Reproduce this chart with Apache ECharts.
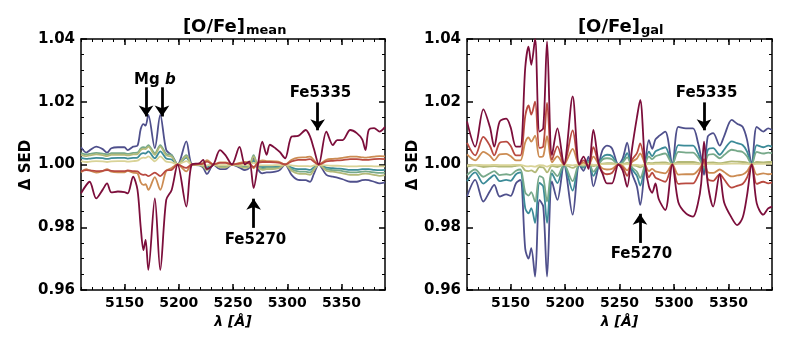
<!DOCTYPE html>
<html>
<head>
<meta charset="utf-8">
<script src="https://cdn.jsdelivr.net/npm/echarts@6/dist/echarts.min.js"></script>
<style>
  html, body { margin: 0; background: #fff; }
  #chart { width: 789px; height: 351px; }
</style>
</head>
<body>
<div id="chart"></div>
<script>
// wavelength grid (Angstrom) and ΔSED - 1 in units of 1e-3
const lamMean = [5110,5115,5118,5124,5130,5134,5138,5144,5150,5153,5158,5162,5165,5167.5,5169.5,5172,5178,5183,5188.5,5193.5,
  5199,5207,5212,5219,5222.5,5226,5232,5238,5243,5249,5256,5261,5265,5269,5273,5277,5281,5284,5289,5293,
  5298,5304,5310,5317,5321,5324.5,5329,5336,5342,5346,5351,5358,5364,5369,5372,5375,5380,5385,5390];

const meanNavy = [5.5,3.8,4.5,5.7,4.9,3.8,5.2,5.5,5.5,4.6, 5.7,6,11.3,12.9,12.4,15.8,5.2,15.8,4.6,3,
  0,7.4,0,-0.3,-1,-3,0,-1.5,-1.5,0, -1,-1.8,-1,2,-1.5,-2.8,-2.5,-2.5,-2.3,-1.8,
  0,-3.3,-4.9,-5,-5.5,-3,0,-3.3,-3.9,-4.2, -4.7,-5.5,-5.5,-5,-4.9,-5,-5.5,-6,-5.7];
const meanTeal = [2.1,1.8,1.9,2.1,2.0,1.8,2.0,2.1,2.1,1.9, 2.1,2.2,3.3,3.6,3.5,4.2,2.0,4.2,1.9,1.6,
  0,2.2,0,-0.1,-0.3,-0.9,0,-0.5,-0.5,0, -0.3,-0.5,-0.3,1.2,-0.5,-0.8,-0.8,-0.8,-0.7,-0.5,
  0,-1.0,-1.5,-1.5,-1.7,-0.9,0,-1.0,-1.2,-1.3, -1.4,-1.7,-1.7,-1.5,-1.5,-1.5,-1.7,-1.8,-1.7];
const meanGreen = [3.6,3.2,3.4,3.7,3.5,3.2,3.6,3.6,3.6,3.4, 3.7,3.8,5.1,5.5,5.4,6.2,3.6,6.2,3.4,3.0,
  0,3.0,0,-0.1,-0.5,-1.4,0,-0.7,-0.7,0, -0.5,-0.8,-0.5,3,-0.7,-1.3,-1.1,-1.1,-1.0,-0.8,
  0,-1.5,-2.2,-2.3,-2.5,-1.4,0,-1.5,-1.8,-1.9, -2.1,-2.5,-2.5,-2.3,-2.2,-2.3,-2.5,-2.7,-2.6];
const meanKhaki = [3.1,2.7,2.9,3.2,3.0,2.7,3.1,3.1,3.1,2.9, 3.2,3.3,4.6,5.0,4.9,5.7,3.1,5.7,2.9,2.5,
  0,2.6,0,-0.2,-0.6,-1.8,0,-0.9,-0.9,0, -0.6,-1.1,-0.6,2.5,-0.9,-1.7,-1.5,-1.5,-1.4,-1.1,
  0,-2.0,-2.9,-3.0,-3.3,-1.8,0,-2.0,-2.3,-2.5, -2.8,-3.3,-3.3,-3.0,-2.9,-3.0,-3.3,-3.6,-3.4];
const meanLight = [1.1,0.8,0.9,1.1,1.0,0.8,1.0,1.1,1.1,0.9, 1.1,1.2,1.9,2.2,2.1,2.6,1.0,2.6,0.9,0.7,
  0,1.1,0,0,-0.1,-0.3,0,-0.2,-0.2,0, -0.1,-0.2,-0.1,0.5,-0.2,-0.3,-0.3,-0.3,-0.2,-0.2,
  0,-0.3,-0.5,-0.5,-0.6,-0.3,0,-0.3,-0.4,-0.4, -0.5,-0.6,-0.6,-0.5,-0.5,-0.5,-0.6,-0.6,-0.6];
const meanOrange = [-2.5,-1.5,-1.9,-2.6,-2.1,-1.5,-2.3,-2.5,-2.5,-2.0, -2.6,-2.8,-5.7,-6.5,-6.3,-8.1,-4,-8.1,-2.0,-1.1,
  0,-2.2,0,0.1,0.5,1.4,0,0.7,0.7,0, 0.5,0.8,0.5,-1.2,0.7,1.3,1.1,1.1,1.0,0.8,
  0,1.5,2.2,2.3,2.5,1.4,0,1.5,1.8,1.9, 2.1,2.5,2.5,2.3,2.2,2.3,2.5,2.7,2.6];
const meanRed = [-2.1,-1.8,-1.9,-2.1,-2.0,-1.8,-2.0,-2.1,-2.1,-1.9, -2.1,-2.2,-3.0,-3.3,-3.2,-3.7,-2.6,-3.7,-1.9,-1.7,
  0,-1.1,0,0.1,0.3,0.9,0,0.5,0.5,0, 0.3,0.5,0.3,-0.8,0.5,0.8,0.8,0.8,0.7,0.5,
  0,1.0,1.5,1.5,1.7,0.9,0,1.0,1.2,1.3, 1.4,1.7,1.7,1.5,1.5,1.5,1.7,1.8,1.7];
const meanMaroon = [-9.2,-6.5,-5.5,-10.8,-8,-6,-8.9,-8.6,-8.8,-9.2, -3.9,-8,-20,-27.3,-24,-33.6,-10.8,-33.6,-11.3,-8.1,
  0,-13.4,0,0.4,1.5,-1.5,0,4.6,3,0, 5.6,0,1,-7.5,0,7.3,3.1,6.3,5.2,4,
  2,8.9,9.1,11,8.9,5,0,10.5,6.2,7.8, 7.8,11,10,8,4.6,11,11.6,10.5,12];

const lamGal = [5110,5117.5,5125,5131,5135,5140,5146,5150,5155,5159,5163.5,5166.5,5169,5172.5,5176.5,5180,5183.5,5188,5193,5199,
  5207,5213,5217,5221.5,5226,5231,5234.5,5238.5,5243,5249,5253,5257,5261.5,5266,5269,5273.5,5277,5280,5283,5286,
  5292,5298.5,5304,5311,5317.5,5322,5325,5327.6,5331,5336,5342,5346,5353,5358,5363,5367,5371.4,5376,5382,5386.5,5390];

const galNavy = [-10.2,-4.9,-11.8,-8.5,-6.5,-10.2,-9.5,-10,-6,-4.9, -27,-30,-26.7,-35.7,-11.3,-13.4,-35.7,-5.4,-11.3,0,
  -16,0,-2,2.5,-7,0,4.7,6,5.2,0, 2,7,-2.8,-7,-12.9,0,7.8,5,8,9,
  10.5,0,12,11.5,11.5,7,2,-3.3,8.9,10, 6,9,14.2,13,12,8,0,12,10.5,11.5,11];
const galTeal = [-5.3,-2.5,-6.1,-4.4,-3.4,-5.3,-4.9,-5.2,-3.1,-2.5, -14,-15.6,-13.9,-18.6,-5.9,-7,-18.6,-2.8,-5.9,0,
  -8.3,0,-1,1.3,-3.6,0,2.4,3.1,2.7,0, 1,3.6,-1.5,-3.6,-6.7,0,4.1,2.6,4.2,4.7,
  5.5,0,6.2,6,6,3.6,1,-1.7,4.6,5.2, 3.1,4.7,7.4,6.8,6.2,4.2,0,6.2,5.5,6,5.7];
const galGreen = [-3.4,-1.6,-3.9,-2.8,-2.1,-3.4,-3.1,-3.3,-2,-1.6, -8.9,-9.9,-8.8,-11.8,-3.7,-4.4,-11.8,-1.8,-3.7,0,
  -5.3,0,-0.7,0.8,-2.3,0,1.6,2,1.7,0, 0.7,2.3,-0.9,-2.3,-4.3,0,2.6,1.7,2.6,3,
  3.5,0,4,3.8,3.8,2.3,0.7,-1.1,2.9,3.3, 2,3,4.7,4.3,4,2.6,0,4,3.5,3.8,3.6];
const galKhaki = [-0.7,-0.3,-0.8,-0.6,-0.5,-0.7,-0.7,-0.7,-0.4,-0.3, -1.9,-2.1,-1.9,-2.5,-0.8,-0.9,-2.5,-0.4,-0.8,0,
  -1.1,0,-0.1,0.2,-0.5,0,0.3,0.4,0.4,0, 0.1,0.5,-0.2,-0.5,-0.9,0,0.5,0.4,0.6,0.6,
  0.7,0,0.8,0.8,0.8,0.5,0.1,-0.2,0.6,0.7, 0.4,0.6,1,0.9,0.8,0.6,0,0.8,0.7,0.8,0.8];
const galLight = [-0.2,-0.1,-0.2,-0.2,-0.1,-0.2,-0.2,-0.2,-0.1,-0.1, -0.5,-0.6,-0.5,-0.7,-0.2,-0.3,-0.7,-0.1,-0.2,0,
  -0.3,0,0,0.1,-0.1,0,0.1,0.1,0.1,0, 0,0.1,-0.1,-0.1,-0.3,0,0.2,0.1,0.2,0.2,
  0.2,0,0.2,0.2,0.2,0.1,0,-0.1,0.2,0.2, 0.1,0.2,0.3,0.3,0.2,0.2,0,0.2,0.2,0.2,0.2];
const galOrange = [3.2,1.3,4,2.8,1.3,3.2,3.4,2.7,1.3,1.3, 7.1,8.6,7.3,9.2,2.4,2.7,9,0.7,2.6,0,
  5,0,0.6,-0.3,2.5,0,-1.3,-1.6,-1.4,0, -0.5,-1.9,0.8,1.9,3.5,0,-2.1,-1.4,-2.2,-2.4,
  -2.8,0,-3.2,-3.1,-3.1,-1.9,-0.5,0.9,-2.4,-2.7, -1.6,-2.4,-3.8,-3.5,-3.2,-2.2,0,-3.2,-2.8,-3.1,-3];
const galRed = [6.9,2.9,8.8,6,2.9,6.9,7.3,6,2.9,2.9, 15.5,18.8,15.9,20,5.3,5.8,19.6,1.5,5.8,0,
  10.9,0,1.3,-0.6,5.5,0,-2.4,-3.1,-2.7,0, -1,-3.6,1.5,3.6,6.7,0,-4.1,-2.6,-4.2,-4.7,
  -5.5,0,-6.2,-6,-6,-3.6,-1,1.7,-4.6,-5.2, -3.1,-4.7,-7.4,-6.8,-6.2,-4.2,0,-6.2,-5.5,-6,-5.7];
const galMaroon = [13.7,5.7,17.6,12,5.7,13.7,14.6,11.9,5.7,5.7, 31,37.6,31.8,40,10.5,11.6,39.2,3,11.5,0,
  21.7,0,2.5,-1.4,11,0,-3,-6,-6,0, -2,-7.1,5,15,20.6,0,-7,-9,-6,-11,
  -14.5,0,-12,-15.6,-16.6,-12.4,-6,7.3,-6,-13.4, -3,-12,-17,-19.3,-17,-10,0,-12.4,-16,-14,-13.4];

const majorTicks = [5150, 5200, 5250, 5300, 5350];

const FONT = 'DejaVu Sans';
const lineColors = ['#4f508c', '#3c8b98', '#77a98a', '#b3b978', '#d9d397', '#cc8c53', '#b94a40', '#7c0e3b'];

const chart = echarts.init(document.getElementById('chart'));

function toPoints(lam, d) {
  return lam.map((x, i) => [x, 1 + d[i] / 1000]);
}

function xAxes(gi) {
  const base = {
    gridIndex: gi, type: 'value', min: 5110, max: 5390,
    splitLine: { show: false },
    axisLine: { show: false },
    axisLabel: { show: false }
  };
  const minor = {
    ...base, interval: 10,
    axisLine: { show: true, onZero: false, lineStyle: { color: '#000', width: 1.5 } },
    axisTick: { inside: true, length: 3, lineStyle: { color: '#000', width: 1 } }
  };
  const major = {
    ...base,
    axisTick: { inside: true, length: 6, customValues: majorTicks, lineStyle: { color: '#000', width: 1.5 } }
  };
  return [
    { ...minor, position: 'bottom' },
    {
      ...major, position: 'bottom',
      axisLabel: {
        customValues: majorTicks, color: '#000', fontFamily: FONT,
        fontWeight: 'bold', fontSize: 14, margin: 6,
        formatter: v => String(v)
      },
      name: 'λ [Å]', nameLocation: 'middle', nameGap: 23,
      nameTextStyle: { color: '#000', fontFamily: FONT, fontWeight: 'bold', fontStyle: 'italic', fontSize: 14 }
    },
    { ...minor, position: 'top' },
    { ...major, position: 'top' }
  ];
}

function yAxes(gi) {
  const base = {
    gridIndex: gi, type: 'value', min: 0.96, max: 1.04, interval: 0.02,
    splitLine: { show: false },
    axisLine: { show: true, onZero: false, lineStyle: { color: '#000', width: 1.5 } },
    axisTick: { inside: true, length: 6, lineStyle: { color: '#000', width: 1.5 } },
    minorTick: { show: true, splitNumber: 4, length: 3, lineStyle: { color: '#000', width: 1 } }
  };
  return [
    {
      ...base, position: 'left',
      axisLabel: {
        color: '#000', fontFamily: FONT, fontWeight: 'bold', fontSize: 15, margin: 6,
        formatter: v => v.toFixed(2)
      }
    },
    { ...base, position: 'right', axisLabel: { show: false } }
  ];
}

function panelSeries(gi, lam, lines, notes) {
  const xi = gi * 4, yi = gi * 2;
  const out = lines.map((d, k) => ({
    type: 'line', xAxisIndex: xi, yAxisIndex: yi,
    data: toPoints(lam, d),
    showSymbol: false, smooth: 0.3, silent: true,
    lineStyle: { color: lineColors[k], width: 1.8 },
    z: 2 + k
  }));
  // annotation arrows and labels, placed in data coordinates
  out.push({
    type: 'line', xAxisIndex: xi, yAxisIndex: yi, data: [], silent: true, z: 20,
    itemStyle: { color: '#000' },
    markLine: {
      silent: true, symbol: ['none', 'arrow'], symbolSize: 11,
      label: { show: false },
      itemStyle: { color: '#000' },
      lineStyle: { color: '#000', width: 2.8, type: 'solid' },
      emphasis: { disabled: true },
      data: notes.arrows.map(a => [{ coord: [a[0], a[1]] }, { coord: [a[0], a[2]] }])
    },
    markPoint: {
      silent: true, symbol: 'rect', symbolSize: 0,
      label: {
        show: true, position: 'inside', color: '#000', fontFamily: FONT,
        fontWeight: 'bold', fontSize: 15,
        formatter: p => p.name === 'Mg b' ? 'Mg {i|b}' : p.name,
        rich: { i: { fontFamily: FONT, fontWeight: 'bold', fontStyle: 'italic', fontSize: 15, color: '#000' } }
      },
      data: notes.texts.map(t => ({ name: t[0], coord: [t[1], t[2]] }))
    }
  });
  return out;
}

const meanNotes = {
  arrows: [[5169.9, 1.0246, 1.0153], [5184.6, 1.0246, 1.0153], [5328, 1.0198, 1.0109], [5269, 0.9798, 0.9891]],
  texts: [['Mg b', 5178, 1.0270], ['Fe5335', 5330.6, 1.0226], ['Fe5270', 5270.7, 0.9760]]
};
const galNotes = {
  arrows: [[5327.6, 1.0198, 1.0109], [5268.8, 0.9750, 0.9843]],
  texts: [['Fe5335', 5329.9, 1.0226], ['Fe5270', 5270.2, 0.9715]]
};

const titleFont = 'bold 18px "DejaVu Sans"';
const subFont = 'bold 13px "DejaVu Sans"';

const option = {
  animation: false,
  backgroundColor: '#fff',
  grid: [
    { left: 81, top: 39, width: 304, height: 251, outerBoundsMode: 'none' },
    { left: 467, top: 39, width: 305, height: 251, outerBoundsMode: 'none' }
  ],
  xAxis: [...xAxes(0), ...xAxes(1)],
  yAxis: [...yAxes(0), ...yAxes(1)],
  series: [
    ...panelSeries(0, lamMean, [meanNavy, meanTeal, meanGreen, meanKhaki, meanLight, meanOrange, meanRed, meanMaroon], meanNotes),
    ...panelSeries(1, lamGal, [galNavy, galTeal, galGreen, galKhaki, galLight, galOrange, galRed, galMaroon], galNotes)
  ],
  graphic: [
    { type: 'text', x: 245, y: 27, style: { text: '[O/Fe]', font: titleFont, fill: '#000', align: 'right', verticalAlign: 'middle' } },
    { type: 'text', x: 246, y: 31, style: { text: 'mean', font: subFont, fill: '#000', align: 'left', verticalAlign: 'middle' } },
    { type: 'text', x: 640, y: 27, style: { text: '[O/Fe]', font: titleFont, fill: '#000', align: 'right', verticalAlign: 'middle' } },
    { type: 'text', x: 641, y: 31, style: { text: 'gal', font: subFont, fill: '#000', align: 'left', verticalAlign: 'middle' } },
    { type: 'text', x: 26, y: 165, rotation: Math.PI / 2, style: { text: 'Δ SED', font: 'bold 15px "DejaVu Sans"', fill: '#000', align: 'center', verticalAlign: 'middle' } },
    { type: 'text', x: 413, y: 165, rotation: Math.PI / 2, style: { text: 'Δ SED', font: 'bold 15px "DejaVu Sans"', fill: '#000', align: 'center', verticalAlign: 'middle' } }
  ]
};

chart.setOption(option);
</script>
</body>
</html>
